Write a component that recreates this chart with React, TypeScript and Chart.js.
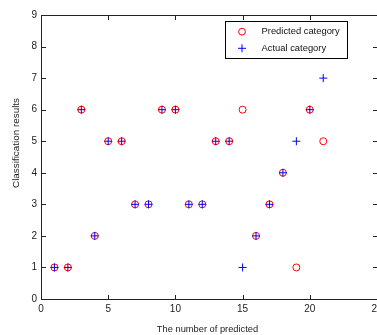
import React, { useEffect, useRef } from "react";
import { Chart, registerables } from "chart.js";

Chart.register(...registerables);

const sampleIndex = [1, 2, 3, 4, 5, 6, 7, 8, 9, 10, 11, 12, 13, 14, 15, 16, 17, 18, 19, 20, 21];
const predicted = [1, 1, 6, 2, 5, 5, 3, 3, 6, 6, 3, 3, 5, 5, 6, 2, 3, 4, 1, 6, 5];
const actual = [1, 1, 6, 2, 5, 5, 3, 3, 6, 6, 3, 3, 5, 5, 1, 2, 3, 4, 5, 6, 7];
const xTicks = [0, 5, 10, 15, 20, 25];
const yTicks = [0, 1, 2, 3, 4, 5, 6, 7, 8, 9];
const labels = ["Predicted category", "Actual category"];
const xTitle = "The number of predicted";
const yTitle = "Classification results";

const FONT = "'Liberation Sans', Arial, sans-serif";

const framePlugin = {
  id: "frame",
  afterDraw(chart: any) {
    const { ctx, chartArea: a, scales } = chart;
    const xs = scales.x;
    const ys = scales.y;
    ctx.save();
    ctx.strokeStyle = "#222";
    ctx.lineWidth = 1;
    const L = Math.round(a.left) + 0.5;
    const R = Math.round(a.right) + 0.5;
    const T = Math.round(a.top) + 0.5;
    const B = Math.round(a.bottom) + 0.5;
    ctx.strokeRect(L, T, R - L, B - T);
    const tl = 4.5;
    ctx.beginPath();
    xTicks.forEach((v) => {
      const px = Math.round(xs.getPixelForValue(v)) + 0.5;
      ctx.moveTo(px, B);
      ctx.lineTo(px, B - tl);
      ctx.moveTo(px, T);
      ctx.lineTo(px, T + tl);
    });
    yTicks.forEach((v) => {
      const py = Math.round(ys.getPixelForValue(v)) + 0.5;
      ctx.moveTo(L, py);
      ctx.lineTo(L + tl, py);
      ctx.moveTo(R, py);
      ctx.lineTo(R - tl, py);
    });
    ctx.stroke();

    // axis titles
    ctx.fillStyle = "#222";
    ctx.font = `9.3px ${FONT}`;
    ctx.textAlign = "center";
    ctx.textBaseline = "middle";
    ctx.fillText(xTitle, 207.5, 329);
    ctx.save();
    ctx.translate(16.5, 143);
    ctx.rotate(-Math.PI / 2);
    ctx.font = `9.9px ${FONT}`;
    ctx.fillText(yTitle, 0, 0);
    ctx.restore();

    // legend
    const lx = 225.5, ly = 21.5, lw = 122, lh = 37;
    ctx.fillStyle = "#fff";
    ctx.fillRect(lx, ly, lw, lh);
    ctx.strokeStyle = "#000";
    ctx.strokeRect(lx, ly, lw, lh);
    const rows = [31.7, 48.3];
    ctx.lineWidth = 1;
    ctx.strokeStyle = "#ff0000";
    ctx.beginPath();
    ctx.arc(242, rows[0], 3.4, 0, Math.PI * 2);
    ctx.stroke();
    ctx.strokeStyle = "#0000ff";
    ctx.beginPath();
    ctx.moveTo(238, rows[1]);
    ctx.lineTo(246, rows[1]);
    ctx.moveTo(242, rows[1] - 4);
    ctx.lineTo(242, rows[1] + 4);
    ctx.stroke();
    ctx.fillStyle = "#111";
    ctx.font = `9.4px ${FONT}`;
    ctx.textAlign = "left";
    ctx.fillText(labels[0], 261.5, rows[0]);
    ctx.fillText(labels[1], 261.5, rows[1]);
    ctx.restore();
  },
};

export default function App() {
  const ref = useRef<HTMLCanvasElement | null>(null);
  useEffect(() => {
    document.body.style.margin = "0";
    const ctx = ref.current!.getContext("2d")!;
    const chart = new Chart(ctx, {
      type: "scatter",
      data: {
        datasets: [
          {
            label: labels[0],
            data: sampleIndex.map((x, i) => ({ x, y: predicted[i] })),
            pointStyle: "circle",
            pointRadius: 3.5,
            pointBorderWidth: 1,
            borderColor: "#ff0000",
            backgroundColor: "rgba(0,0,0,0)",
            order: 1,
          },
          {
            label: labels[1],
            data: sampleIndex.map((x, i) => ({ x, y: actual[i] })),
            pointStyle: "cross",
            pointRadius: 4,
            pointBorderWidth: 1,
            borderColor: "#0000ff",
            backgroundColor: "#0000ff",
            order: 0,
          },
        ],
      },
      options: {
        animation: false,
        responsive: false,
        devicePixelRatio: 1,
        layout: { padding: { top: 15, right: 0, left: 0, bottom: 0 } },
        plugins: { legend: { display: false }, tooltip: { enabled: false } },
        scales: {
          x: {
            type: "linear",
            min: 0,
            max: 25,
            afterBuildTicks: (s: any) => {
              s.ticks = xTicks.map((v) => ({ value: v }));
            },
            ticks: {
              padding: 4,
              color: "#222",
              font: { family: FONT, size: 10 },
              maxRotation: 0,
              autoSkip: false,
            },
            grid: { display: false, drawTicks: false },
            border: { display: false },
            afterFit: (s: any) => {
              s.height = 36;
              s.paddingLeft = 0;
              s.paddingRight = 0;
            },
          },
          y: {
            type: "linear",
            min: 0,
            max: 9,
            afterBuildTicks: (s: any) => {
              s.ticks = yTicks.map((v) => ({ value: v }));
            },
            ticks: {
              padding: 4,
              color: "#222",
              font: { family: FONT, size: 10 },
              autoSkip: false,
            },
            grid: { display: false, drawTicks: false },
            border: { display: false },
            afterFit: (s: any) => {
              s.width = 41;
              s.paddingTop = 0;
              s.paddingBottom = 0;
            },
          },
        },
      },
      plugins: [framePlugin],
    });
    return () => chart.destroy();
  }, []);
  return (
    <div style={{ position: "fixed", left: 0, top: 0, width: 377, height: 335, overflow: "hidden", background: "#fff" }}>
      <canvas ref={ref} width={382} height={335} style={{ display: "block", width: 382, height: 335 }} />
    </div>
  );
}
